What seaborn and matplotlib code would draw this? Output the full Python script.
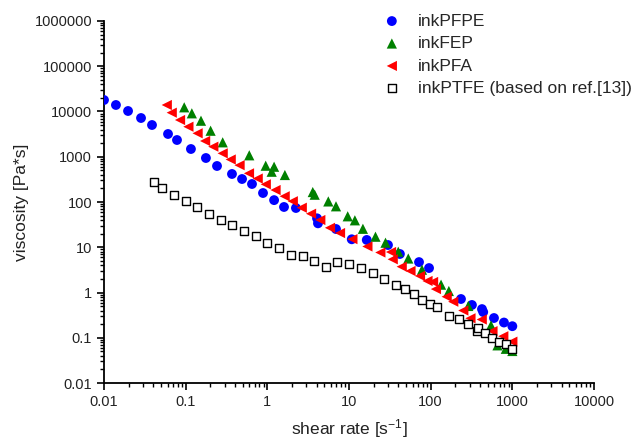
import matplotlib

matplotlib.use("Agg")
import matplotlib.pyplot as plt
import pandas as pd
import seaborn as sns
from matplotlib.ticker import FuncFormatter, LogLocator

# inkPFPE
pfpe_rate = [0.01, 0.014, 0.0197, 0.0284, 0.0387, 0.0608, 0.0783, 0.116, 0.177,
             0.242, 0.369, 0.49, 0.649, 0.885, 1.21, 1.6, 2.24, 4.06, 4.17, 6.93,
             10.8, 16.5, 30, 42, 72, 95.5, 235, 320, 425, 440, 596, 790, 1000]
pfpe_visc = [17950, 13930, 10260, 7180, 5030, 3184, 2345, 1483, 938,
             625, 416, 322, 250, 158, 110, 77.6, 73.7, 43.6, 33.8, 25.3,
             15.0, 14.5, 11.2, 7.1, 4.7, 3.47, 0.718, 0.53, 0.43, 0.37, 0.273, 0.217, 0.18]

# inkFEP
fep_rate = [0.096, 0.119, 0.154, 0.202, 0.284, 0.601, 0.955, 1.13, 1.21, 1.64,
            3.6, 3.8, 5.58, 6.93, 9.64, 11.8, 14.8, 21.1, 28, 40.1, 53.2, 78.3,
            134, 167, 289, 548, 658, 832, 1000]
fep_visc = [12380, 9120, 6260, 3760, 2085, 1077, 634, 467, 602, 395,
            166, 145, 103, 80.4, 48.3, 39.4, 25.6, 17.1, 12.6, 7.97, 5.64, 3.19,
            1.49, 1.08, 0.504, 0.187, 0.068, 0.057, 0.051]

# inkPFA
pfa_rate = [0.0587, 0.0675, 0.0853, 0.108, 0.140, 0.173, 0.218, 0.284, 0.356,
            0.457, 0.596, 0.762, 0.957, 1.26, 1.63, 2.05, 2.64, 3.43, 4.45, 5.85,
            7.76, 11.0, 16.8, 24.2, 32.7, 34.3, 44.2, 56.6, 74, 91.4, 107, 116,
            157, 189, 251, 307, 422, 571, 775, 1000]
pfa_visc = [13930, 9420, 6490, 4610, 3300, 2230, 1670, 1190, 870,
            650, 430, 330, 246, 184, 134, 104, 74.8, 55.1, 40, 26.9,
            20.6, 15.1, 10.4, 7.66, 7.85, 5.42, 3.72, 2.99, 2.32, 1.8, 1.71, 1.19,
            0.807, 0.626, 0.40, 0.269, 0.253, 0.14, 0.108, 0.082]

# inkPTFE (literature)
ptfe_rate = [0.041, 0.0518, 0.0719, 0.101, 0.139, 0.193, 0.268, 0.373, 0.518,
             0.719, 1.0, 1.40, 1.95, 2.71, 3.75, 5.23, 7.13, 10, 13.9, 19.5, 27,
             37.4, 48.5, 62.5, 78.9, 98.1, 118.6, 169, 224, 284, 366, 383, 463,
             558, 687, 828, 1000]
ptfe_visc = [272, 201, 143, 103, 76.3, 55.1, 41, 31, 22.9,
             18, 12.7, 9.5, 6.85, 6.41, 5.05, 3.72, 4.8, 4.27, 3.43, 2.74, 2.01,
             1.49, 1.18, 0.912, 0.683, 0.557, 0.471, 0.307, 0.26, 0.198, 0.141, 0.162, 0.125,
             0.1, 0.082, 0.072, 0.056]

labels = ["inkPFPE", "inkFEP", "inkPFA", "inkPTFE (based on ref.[13])"]


def fmt(v, _pos):
    return "%.10g" % v


def main() -> None:
    sns.set_style("ticks")
    plt.rcParams["font.family"] = ["Liberation Sans", "DejaVu Sans"]
    plt.rcParams["mathtext.fontset"] = "custom"
    plt.rcParams["mathtext.rm"] = "Liberation Sans"
    plt.rcParams["mathtext.it"] = "Liberation Sans:italic"

    fig = plt.figure(figsize=(6.38, 4.40), dpi=100)
    ax = fig.add_axes([104 / 638, 1 - 383 / 440, 490 / 638, 362 / 440])

    series = [
        (pfpe_rate, pfpe_visc, labels[0], "o", "#0000ff", "none", 50),
        (fep_rate, fep_visc, labels[1], "^", "#008000", "none", 54),
        (pfa_rate, pfa_visc, labels[2], "<", "#ff0000", "none", 54),
        (ptfe_rate, ptfe_visc, labels[3], "s", "white", "black", 28),
    ]
    for rate, visc, lab, mk, col, ec, size in series:
        df = pd.DataFrame({"rate": rate, "visc": visc})
        sns.scatterplot(data=df, x="rate", y="visc", ax=ax, marker=mk,
                        color=col, edgecolor=ec, linewidth=1.0 if ec != "none" else 0,
                        s=size, label=lab, zorder=3)

    ax.set_xscale("log")
    ax.set_yscale("log")
    ax.set_xlim(0.01, 10000)
    ax.set_ylim(0.01, 1000000)

    ax.xaxis.set_major_locator(LogLocator(base=10, numticks=20))
    ax.yaxis.set_major_locator(LogLocator(base=10, numticks=20))
    ax.xaxis.set_minor_locator(LogLocator(base=10, subs=range(2, 10), numticks=100))
    ax.yaxis.set_minor_locator(LogLocator(base=10, subs=range(2, 10), numticks=100))
    ax.xaxis.set_major_formatter(FuncFormatter(fmt))
    ax.yaxis.set_major_formatter(FuncFormatter(fmt))

    ax.tick_params(which="major", length=5, width=1.2, labelsize=10.5, color="black",
                   labelcolor="#222222", direction="out")
    ax.tick_params(which="minor", length=3, width=1.0, color="black", direction="out")
    for side in ["left", "bottom"]:
        ax.spines[side].set_linewidth(1.3)
        ax.spines[side].set_color("black")
    sns.despine(ax=ax)

    ax.set_xlabel("shear rate [s$^{-1}$]", fontsize=12.5, color="#222222", labelpad=6)
    ax.set_ylabel("viscosity [Pa*s]", fontsize=12.5, color="#222222", labelpad=4)

    ax.legend(loc="upper left", bbox_to_anchor=(0.552, 1.04), frameon=False,
              fontsize=12.5, labelspacing=0.42, handletextpad=0.9,
              handlelength=1.2, borderaxespad=0)

    fig.savefig("out.png", dpi=100)


if __name__ == "__main__":
    main()
